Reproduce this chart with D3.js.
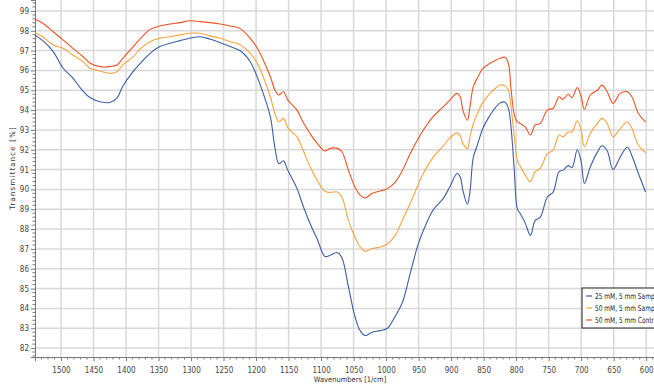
<!DOCTYPE html>
<html>
<head>
<meta charset="utf-8">
<script src="https://cdn.jsdelivr.net/npm/d3@7"></script>
<style>
  body { margin: 0; background: #fff; }
  text { font-family: "DejaVu Sans Condensed", "Liberation Sans Narrow", sans-serif; fill: #333; }
</style>
</head>
<body>
<div id="chart"></div>
<script>
// wavenumbers (1/cm), shared by all three spectra
const wavenumbers = [
  1540, 1528, 1512, 1497, 1482, 1466, 1455, 1440, 1425, 1414,
  1405, 1389, 1378, 1363, 1348, 1332, 1317, 1302, 1286, 1271,
  1255, 1240, 1225, 1209, 1198, 1189, 1178, 1171, 1165, 1158,
  1151, 1137, 1128, 1117, 1106, 1094, 1086, 1075, 1068, 1058,
  1048, 1040, 1032, 1022, 1009, 998, 986, 975, 963, 952,
  943, 928, 912, 902, 891, 886, 882, 875, 871, 866,
  860, 851, 840, 835, 825, 817, 812, 808, 803, 798,
  794, 786, 778, 771, 763, 752, 743, 734, 728, 720,
  714, 706, 700, 695, 686, 675, 668, 660, 651, 640,
  629, 622, 612, 601
];

// 25 mM, 5 mm Sample
const sample25 = [
  97.78, 97.5, 96.95, 96.12, 95.62, 94.95, 94.62, 94.42, 94.38, 94.6,
  95.2, 95.95, 96.36, 96.86, 97.2, 97.37, 97.5, 97.62, 97.7, 97.58,
  97.4, 97.2, 97.0, 96.44, 95.65, 94.84, 93.66, 92.1, 91.3, 91.44,
  90.95, 90.04, 89.2, 88.28, 87.5, 86.62, 86.68, 86.82, 86.55, 85.1,
  83.6, 82.88, 82.63, 82.8, 82.88, 83.0, 83.6, 84.3, 85.75, 87.1,
  87.9, 88.95, 89.55, 90.13, 90.8, 90.63, 89.96, 89.25, 89.9, 91.6,
  92.2, 93.1, 93.75, 93.99, 94.35, 94.4, 94.1, 93.2, 91.0, 89.0,
  88.8, 88.3, 87.68, 88.43, 88.6, 89.62, 89.87, 90.9, 90.96, 91.2,
  91.1, 92.0, 91.4, 90.3, 91.13, 91.88, 92.2, 91.95, 91.0, 91.63,
  92.14, 91.7, 90.8, 89.87
];

// 50 mM, 5 mm Sample
const sample50 = [
  97.9, 97.7, 97.28, 97.12, 96.78, 96.44, 96.1, 95.97, 95.85, 95.93,
  96.27, 96.69, 97.1, 97.45, 97.62, 97.7, 97.79, 97.87, 97.87, 97.74,
  97.62, 97.45, 97.3, 96.86, 96.36, 95.68, 94.67, 93.83, 93.41, 93.58,
  93.1, 92.65, 92.0, 91.14, 90.46, 89.9, 89.85, 89.87, 89.62, 88.44,
  87.6, 87.1, 86.89, 87.01, 87.1, 87.25, 87.68, 88.44, 89.3, 90.13,
  90.8, 91.6, 92.2, 92.6, 92.85, 92.7, 92.32, 92.05, 92.65, 93.3,
  93.8, 94.4, 94.85, 95.0, 95.26, 95.22, 95.0, 94.2, 92.7, 91.45,
  91.2, 90.72, 90.38, 90.88, 91.06, 91.8, 91.98, 92.74, 92.65, 92.9,
  92.9, 93.46, 92.99, 92.14, 92.82, 93.33, 93.58, 93.33, 92.65, 93.07,
  93.4, 93.07, 92.23, 91.85
];

// 50 mM, 5 mm Control
const control50 = [
  98.58, 98.38, 97.95, 97.54, 97.12, 96.69, 96.36, 96.19, 96.19, 96.27,
  96.61, 97.2, 97.6, 98.07, 98.24, 98.34, 98.41, 98.5, 98.46, 98.41,
  98.34, 98.24, 98.12, 97.62, 97.12, 96.53, 95.68, 95.01, 94.76, 94.92,
  94.5, 94.0, 93.41, 92.82, 92.32, 91.94, 92.07, 92.07, 91.9, 90.97,
  90.13, 89.71, 89.57, 89.79, 89.92, 90.04, 90.37, 90.95, 91.8, 92.48,
  92.98, 93.66, 94.17, 94.5, 94.84, 94.67, 94.0, 93.49, 94.17, 95.17,
  95.6, 96.1, 96.36, 96.45, 96.61, 96.66, 96.36, 95.1, 93.8, 93.4,
  93.33, 93.15, 92.74, 93.24, 93.33, 94.0, 94.09, 94.67, 94.54, 94.8,
  94.63, 95.14, 94.67, 94.04, 94.76, 95.0, 95.26, 94.92, 94.34, 94.84,
  94.92, 94.67, 93.83, 93.41
];

const seriesNames = ["25 mM, 5 mm Sample", "50 mM, 5 mm Sample", "50 mM, 5 mm Control"];
const seriesColors = ["#3c5da6", "#f7a440", "#ee5224"];
const xTicks = [1500, 1450, 1400, 1350, 1300, 1250, 1200, 1150, 1100, 1050, 1000, 950, 900, 850, 800, 750, 700, 650, 600];
const yTicks = [82, 83, 84, 85, 86, 87, 88, 89, 90, 91, 92, 93, 94, 95, 96, 97, 98, 99];

const W = 654, H = 387;
const margin = { left: 35, right: 654, top: 0, bottom: 357 };

const svg = d3.select("#chart").append("svg").attr("width", W).attr("height", H);

const x = d3.scaleLinear().domain([1540, 588]).range([margin.left, margin.right]);
const y = d3.scaleLinear().domain([81.55, 99.55]).range([margin.bottom, margin.top]);

// grid
const grid = svg.append("g").attr("class", "grid");
grid.selectAll(".vg").data(xTicks).enter().append("line")
  .attr("x1", d => x(d)).attr("x2", d => x(d))
  .attr("y1", margin.top).attr("y2", margin.bottom)
  .attr("stroke", "#d8d8d8").attr("stroke-width", 1.5);
grid.selectAll(".hg").data(yTicks).enter().append("line")
  .attr("x1", margin.left).attr("x2", margin.right)
  .attr("y1", d => y(d)).attr("y2", d => y(d))
  .attr("stroke", "#d8d8d8").attr("stroke-width", 1.5);

// x axis with minor ticks
const xMinor = d3.range(590, 1540, 10).filter(v => v % 50 !== 0);
const xAxis = svg.append("g").attr("transform", `translate(0,${margin.bottom})`);
xAxis.call(d3.axisBottom(x).tickValues(xTicks).tickSize(4).tickPadding(6).tickFormat(d3.format("d")));
xAxis.append("g").selectAll("line").data(xMinor).enter().append("line")
  .attr("x1", d => x(d)).attr("x2", d => x(d)).attr("y1", 0).attr("y2", 2.5)
  .attr("stroke", "#777");

// y axis with minor ticks
const yMinor = d3.range(81.6, 99.55, 0.2).filter(v => Math.abs(v - Math.round(v)) > 0.05);
const yAxis = svg.append("g").attr("transform", `translate(${margin.left},0)`);
yAxis.call(d3.axisLeft(y).tickValues(yTicks).tickSize(4).tickPadding(2).tickFormat(d3.format("d")));
yAxis.append("g").selectAll("line").data(yMinor).enter().append("line")
  .attr("x1", 0).attr("x2", -2.5).attr("y1", d => y(d)).attr("y2", d => y(d))
  .attr("stroke", "#777");

svg.selectAll(".domain").attr("stroke", "#777");
svg.selectAll(".tick line").attr("stroke", "#777");
svg.selectAll(".tick text").style("font-size", "8px").style("fill", "#444");

// axis titles
svg.append("text")
  .attr("x", 350).attr("y", 382)
  .attr("text-anchor", "middle")
  .style("font-size", "7.5px")
  .text("Wavenumbers [1/cm]");
svg.append("text")
  .attr("transform", "translate(15,168) rotate(-90)")
  .attr("text-anchor", "middle")
  .style("font-size", "7.5px")
  .style("letter-spacing", "1.3px")
  .text("Transmittance [%]");

// spectra
const seriesValues = [sample25, sample50, control50];
const line = d3.line()
  .x((d, i) => x(wavenumbers[i]))
  .y(d => y(d))
  .curve(d3.curveCatmullRom.alpha(0.5));

const plot = svg.append("g");
seriesValues.forEach((vals, k) => {
  plot.append("path")
    .datum(vals)
    .attr("fill", "none")
    .attr("stroke", seriesColors[k])
    .attr("stroke-width", 1.1)
    .attr("d", line);
});

// legend (box runs past the right edge, as in the source image)
const lg = svg.append("g").attr("class", "legend").attr("transform", "translate(582,288)");
lg.append("rect").attr("width", 90).attr("height", 40)
  .attr("fill", "#fff").attr("stroke", "#222").attr("stroke-width", 1);
seriesNames.forEach((name, k) => {
  const ry = 8 + k * 12;
  lg.append("line").attr("x1", 4).attr("x2", 10).attr("y1", ry).attr("y2", ry)
    .attr("stroke", seriesColors[k]).attr("stroke-width", 1.2);
  lg.append("text")
    .attr("transform", `translate(13,${ry + 3}) scale(0.82,1)`)
    .style("font-size", "8px")
    .style("fill", "#222").text(name);
});
</script>
</body>
</html>
